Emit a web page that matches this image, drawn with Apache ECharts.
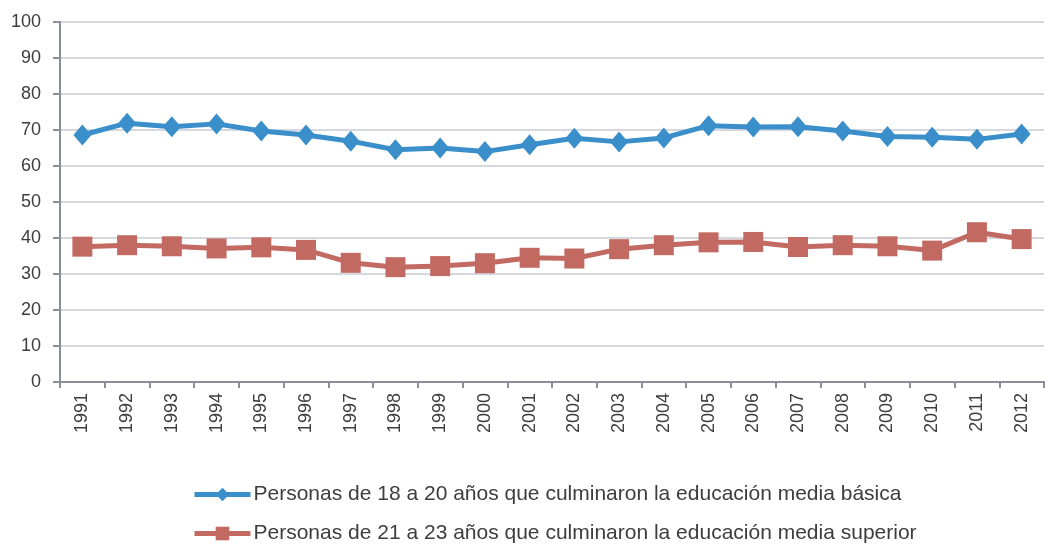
<!DOCTYPE html>
<html>
<head>
<meta charset="utf-8">
<script src="https://cdn.jsdelivr.net/npm/echarts@6/dist/echarts.min.js"></script>
<style>
  html, body { margin: 0; padding: 0; background: #fff; }
  #main { width: 1048px; height: 547px; }
</style>
</head>
<body>
<div id="main"></div>
<script>
// datos
var years = ['1991', '1992', '1993', '1994', '1995', '1996', '1997', '1998', '1999', '2000', '2001',
             '2002', '2003', '2004', '2005', '2006', '2007', '2008', '2009', '2010', '2011', '2012'];
var basica = [68.6, 71.9, 70.9, 71.7, 69.7, 68.6, 66.9, 64.5, 65.0, 64.0, 65.9,
              67.7, 66.7, 67.8, 71.2, 70.8, 70.9, 69.7, 68.2, 68.0, 67.4, 68.9];
var superior = [37.6, 38.0, 37.7, 37.1, 37.4, 36.7, 33.1, 31.9, 32.2, 33.0, 34.5,
                34.3, 36.9, 38.0, 38.8, 38.9, 37.5, 38.0, 37.7, 36.5, 41.6, 39.7];
var yTicks = [0, 100, 10]; // min, max, intervalo
var names = ['Personas de 18 a 20 años que culminaron la educación media básica',
             'Personas de 21 a 23 años que culminaron la educación media superior'];

var myChart = echarts.init(document.getElementById('main'));
var narrow = '"Liberation Sans Narrow", "Liberation Sans", sans-serif';
var azul = '#3a8fca', rojo = '#c26a62', gris = '#8a8e96', texto = '#3d3d3d';

function leyenda(i, top) {
    return {
        orient: 'horizontal',
        left: 187,
        top: top,
        itemWidth: 56,
        itemHeight: 17,
        itemGap: 0,
        lineStyle: { width: 5 },
        textStyle: { fontSize: 21, color: texto, fontFamily: narrow, padding: [0, 0, 0, -2] },
        data: [names[i]]
    };
}

myChart.setOption({
    animation: false,
    grid: { left: 60, right: 4, top: 22, bottom: 165 },
    legend: [leyenda(0, 479), leyenda(1, 518)],
    xAxis: {
        type: 'category',
        data: years,
        boundaryGap: true,
        axisLine: { lineStyle: { color: gris, width: 2 } },
        axisTick: { show: true, length: 6, lineStyle: { color: gris, width: 2 } },
        axisLabel: { rotate: 90, fontSize: 18, color: texto, fontFamily: narrow, margin: 11, interval: 0 }
    },
    yAxis: {
        type: 'value',
        min: yTicks[0],
        max: yTicks[1],
        interval: yTicks[2],
        axisLine: { show: true, lineStyle: { color: gris, width: 2 } },
        axisTick: { show: true, length: 7, lineStyle: { color: gris, width: 2 } },
        axisLabel: { fontSize: 18, color: texto, fontFamily: '"Liberation Sans", sans-serif', margin: 19 },
        splitLine: { lineStyle: { color: '#d5d8de', width: 2 } }
    },
    series: [
        {
            name: names[0],
            type: 'line',
            data: basica,
            symbol: 'diamond',
            symbolSize: [18, 21],
            color: azul,
            lineStyle: { width: 5, color: azul },
            itemStyle: { color: azul }
        },
        {
            name: names[1],
            type: 'line',
            data: superior,
            symbol: 'rect',
            symbolSize: 20,
            color: rojo,
            lineStyle: { width: 5, color: rojo },
            itemStyle: { color: rojo }
        }
    ]
});
</script>
</body>
</html>
